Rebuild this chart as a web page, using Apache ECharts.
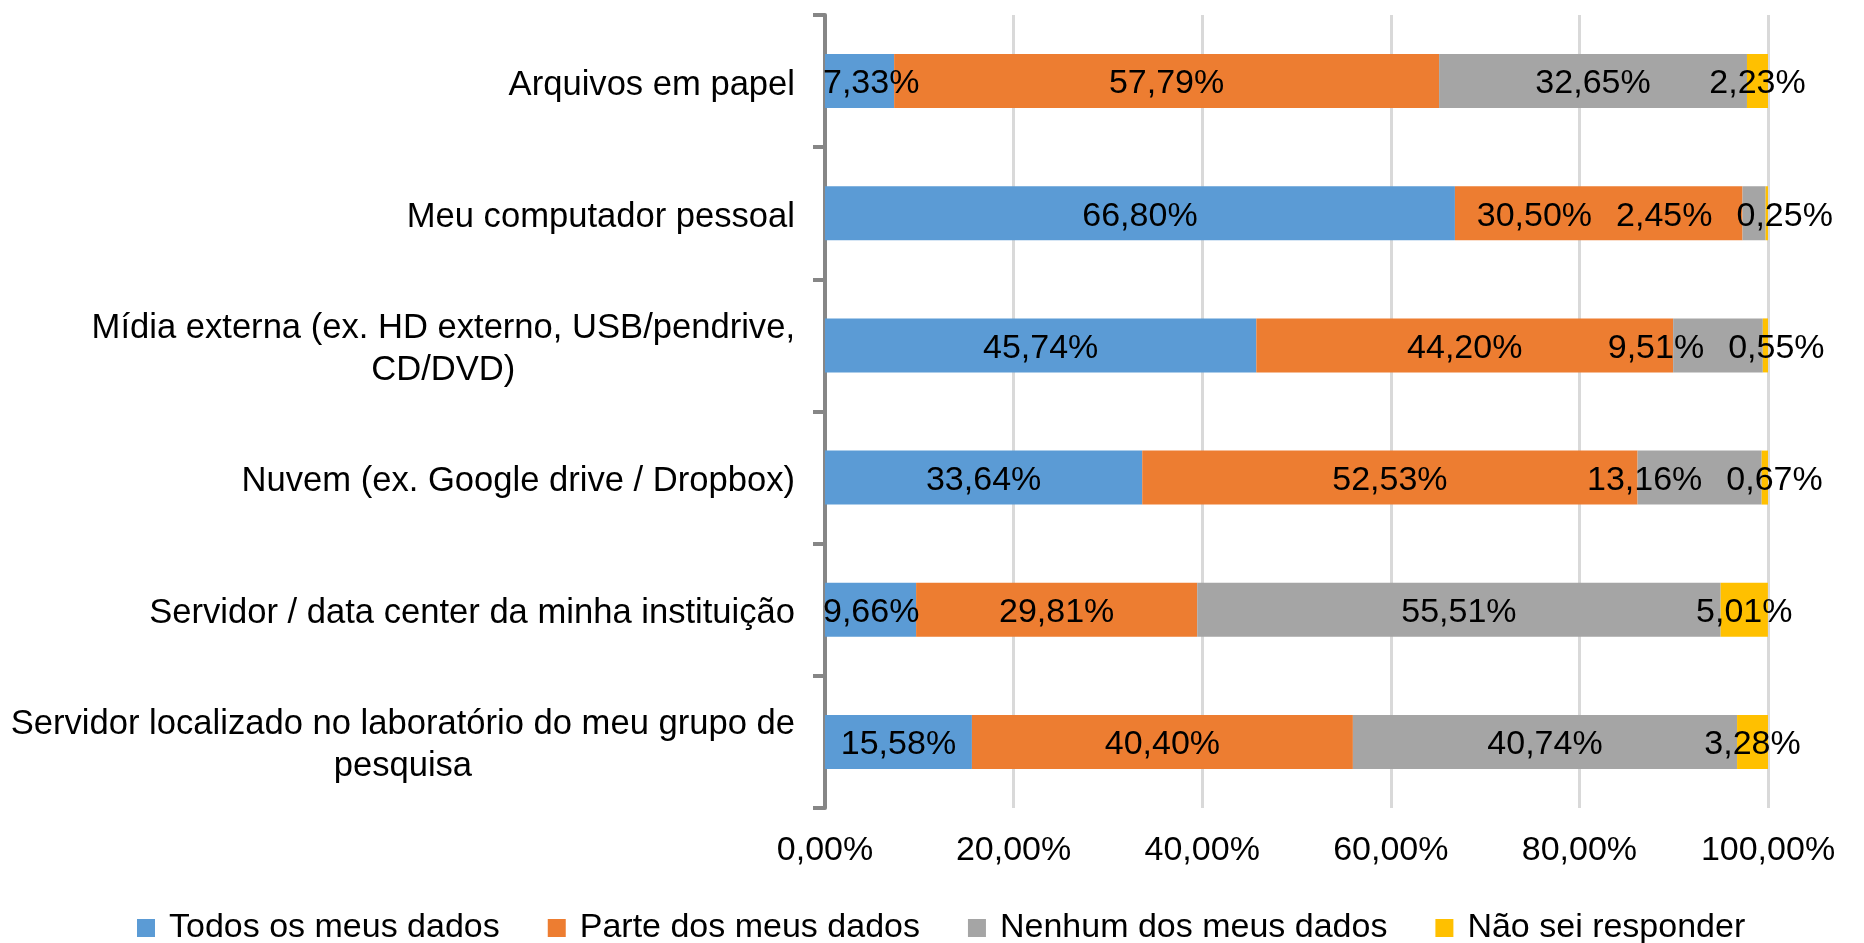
<!DOCTYPE html>
<html><head><meta charset="utf-8">
<script src="https://cdn.jsdelivr.net/npm/echarts@6/dist/echarts.min.js"></script>
<style>html,body{margin:0;padding:0;background:#fff}#c{width:1864px;height:943px}</style>
</head><body><div id="c"></div>
<script>
const categories = [
  'Arquivos em papel',
  'Meu computador pessoal',
  'Mídia externa (ex. HD externo, USB/pendrive,\nCD/DVD)',
  'Nuvem (ex. Google drive / Dropbox)',
  'Servidor / data center da minha instituição',
  'Servidor localizado no laboratório do meu grupo de\npesquisa'
];
const seriesNames = ['Todos os meus dados', 'Parte dos meus dados', 'Nenhum dos meus dados', 'Não sei responder'];
const todos  = [7.33, 66.80, 45.74, 33.64, 9.66, 15.58];
const parte  = [57.79, 30.50, 44.20, 52.53, 29.81, 40.40];
const nenhum = [32.65, 2.45, 9.51, 13.16, 55.51, 40.74];
const naoSei = [2.23, 0.25, 0.55, 0.67, 5.01, 3.28];
const xTickLabels = ['0,00%', '20,00%', '40,00%', '60,00%', '80,00%', '100,00%'];
const colors = ['#5B9BD5', '#ED7D31', '#A5A5A5', '#FFC000'];

const FONT = '"Liberation Sans", Arial, sans-serif';
const FS = 34;
const FS_Y = 34.6;
const allSeries = [todos, parte, nenhum, naoSei];
function fmt(v) { return v.toFixed(2).replace('.', ',') + '%'; }

const chart = echarts.init(document.getElementById('c'), null, {renderer: 'canvas'});
const option = {
  animation: false,
  backgroundColor: '#fff',
  textStyle: {fontFamily: FONT},
  grid: {left: 825, right: 96, top: 15, bottom: 135, containLabel: false},
  xAxis: {
    type: 'value', min: 0, max: 100, interval: 20,
    axisLine: {show: false}, axisTick: {show: false},
    splitLine: {show: true, lineStyle: {color: '#D9D9D9', width: 3}},
    axisLabel: {margin: 26, fontSize: FS, color: '#000', fontFamily: FONT,
      formatter: v => xTickLabels[Math.round(v / 20)]}
  },
  yAxis: {
    type: 'category', data: categories, inverse: true,
    axisLine: {show: true, lineStyle: {color: '#868686', width: 4}},
    axisTick: {show: true, length: 12, lineStyle: {color: '#868686', width: 4}},
    axisLabel: {
      margin: 30, color: '#000', fontSize: FS_Y, fontFamily: FONT, padding: [8, 0, 0, 0],
      formatter: v => v.split('\n').map(l => '{c|' + l + '}').join('\n'),
      rich: {c: {align: 'center', fontSize: FS_Y, lineHeight: 42, color: '#000', fontFamily: FONT}}
    }
  },
  legend: {
    data: seriesNames, left: 132, top: 906, padding: 5,
    icon: 'rect', itemWidth: 18, itemHeight: 18, itemGap: 48,
    textStyle: {fontSize: FS, color: '#000', fontFamily: FONT, padding: [0, 0, 0, 9]}
  },
  series: allSeries.map((s, k) => ({
    name: seriesNames[k], type: 'bar', stack: 'total', barWidth: 54,
    itemStyle: {color: colors[k]},
    emphasis: {disabled: true},
    label: {show: true, position: 'inside', color: '#000', fontSize: FS, fontFamily: FONT,
      formatter: p => fmt(p.value)},
    data: s.slice()
  }))
};
chart.setOption(option);

// resolve label overlaps within each row (like the original's smart label placement)
const ctx = document.createElement('canvas').getContext('2d');
ctx.font = FS + 'px ' + FONT;
function px(v) { return chart.convertToPixel({xAxisIndex: 0}, v); }
const offsets = allSeries.map(() => categories.map(() => 0));
const L = px(0) - 2;
const R = chart.getWidth() - 4;
const GAP = 24;
const LEFT_SHARE = 0.85;
categories.forEach((c, r) => {
  let cum = 0;
  const items = allSeries.map(s => {
    const v = s[r];
    const x0 = px(cum), x1 = px(cum + v);
    cum += v;
    const mid = (x0 + x1) / 2;
    return {c: mid, p: mid, w: ctx.measureText(fmt(v)).width};
  });
  for (let it = 0; it < 400; it++) {
    for (let i = items.length - 2; i >= 0; i--) {
      const a = items[i], b = items[i + 1];
      const need = (a.w + b.w) / 2 + GAP - (b.p - a.p);
      if (need > 0) { a.p -= need * LEFT_SHARE; b.p += need * (1 - LEFT_SHARE); }
    }
    items.forEach(o => { o.p = Math.max(L + o.w / 2, Math.min(R - o.w / 2, o.p)); });
  }
  items.forEach((o, k) => { offsets[k][r] = o.p - o.c; });
});
chart.setOption({
  series: allSeries.map((s, k) => ({
    data: s.map((v, r) => ({value: v, label: {offset: [offsets[k][r], 3]}}))
  }))
});
</script>
</body></html>
